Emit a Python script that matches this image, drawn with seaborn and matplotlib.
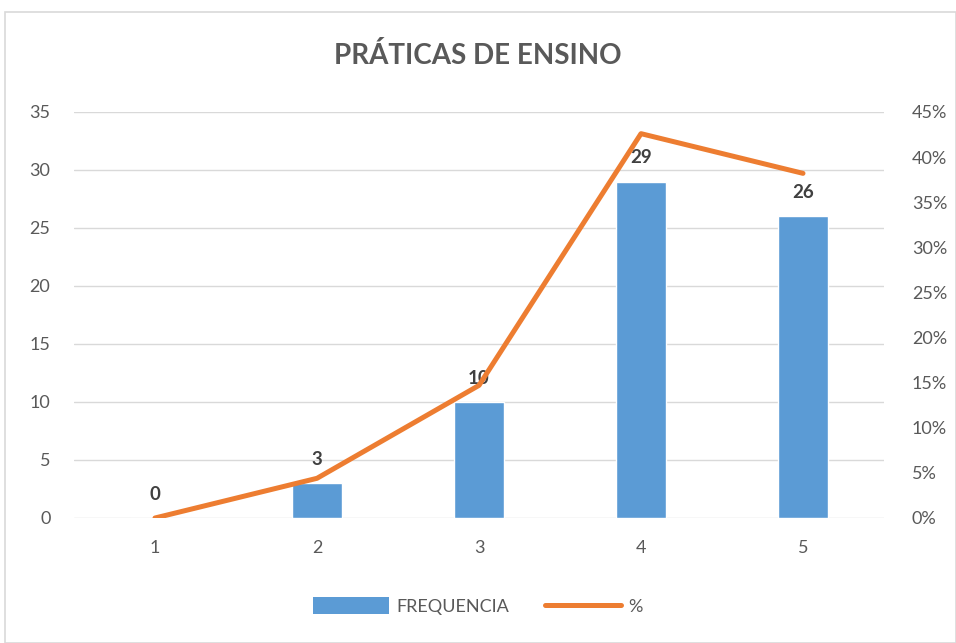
import matplotlib
matplotlib.use("Agg")
import matplotlib.pyplot as plt
import seaborn as sns
import numpy as np
import pandas as pd
from matplotlib.patches import Patch, Rectangle
from matplotlib.lines import Line2D
from matplotlib.ticker import PercentFormatter

categories = ["1", "2", "3", "4", "5"]
frequencia = [0, 3, 10, 29, 26]
percent = [0.0, 4.4, 14.7, 42.6, 38.2]
left_ticks = [0, 5, 10, 15, 20, 25, 30, 35]
right_ticks = [0, 5, 10, 15, 20, 25, 30, 35, 40, 45]

sns.set_theme(style="white")
plt.rcParams['font.family'] = ['Lato', 'DejaVu Sans']

TXT = "#595959"
BLUE = "#5B9BD5"
ORANGE = "#ED7D31"
GRID = "#D9D9D9"

fig = plt.figure(figsize=(9.56, 6.43), dpi=100)
fig.patches.append(Rectangle((5/956, 0), 1 - 5/956, 1 - 12/643, transform=fig.transFigure,
                             fill=False, edgecolor="#D9D9D9", linewidth=1.2))
ax = fig.add_axes([74/956, 125/643, 810/956, 406/643])

df = pd.DataFrame({"cat": categories, "freq": frequencia})
sns.barplot(data=df, x="cat", y="freq", color=BLUE, saturation=1, width=0.31, ax=ax, zorder=2)
ax.set_ylim(0, 35)
ax.set_yticks(left_ticks)
ax.set_xlim(-0.5, 4.5)
ax.grid(axis="y", color=GRID, linewidth=1, zorder=0)
ax.set_axisbelow(True)
for s in ax.spines.values():
    s.set_visible(False)
ax.set_xlabel("")
ax.set_ylabel("")
ax.tick_params(axis="both", length=0, colors=TXT, labelsize=13)
ax.tick_params(axis="x", pad=16)
ax.tick_params(axis="y", pad=17)

for i, v in enumerate(frequencia):
    ax.annotate(str(v), (i, v), xytext=(0, 17), textcoords="offset points",
                ha="center", va="center", fontsize=13.5, fontweight="bold", color="#404040")

ax2 = ax.twinx()
sns.lineplot(x=np.arange(len(percent)), y=percent, color=ORANGE, linewidth=3.6, ax=ax2, zorder=3)
ax2.set_ylim(0, 45)
ax2.set_yticks(right_ticks)
ax2.yaxis.set_major_formatter(PercentFormatter(decimals=0))
for s in ax2.spines.values():
    s.set_visible(False)
ax2.tick_params(axis="y", length=0, colors=TXT, labelsize=13, pad=20)
ax2.set_ylabel("")

fig.text(0.5, 1 - 55/643, "PRÁTICAS DE ENSINO", ha="center", va="center",
         fontsize=20, fontweight="bold", color=TXT)

handles = [Patch(facecolor=BLUE, edgecolor="none"), Line2D([0], [0], color=ORANGE, linewidth=3.6)]
fig.legend(handles, ["FREQUENCIA", "%"], loc="center", bbox_to_anchor=(0.5, 1 - 606/643),
           ncol=2, frameon=False, fontsize=13, labelcolor=TXT, handlelength=4.2,
           handleheight=1.0, columnspacing=2.0, handletextpad=0.4)

fig.savefig("out.png", dpi=100)
